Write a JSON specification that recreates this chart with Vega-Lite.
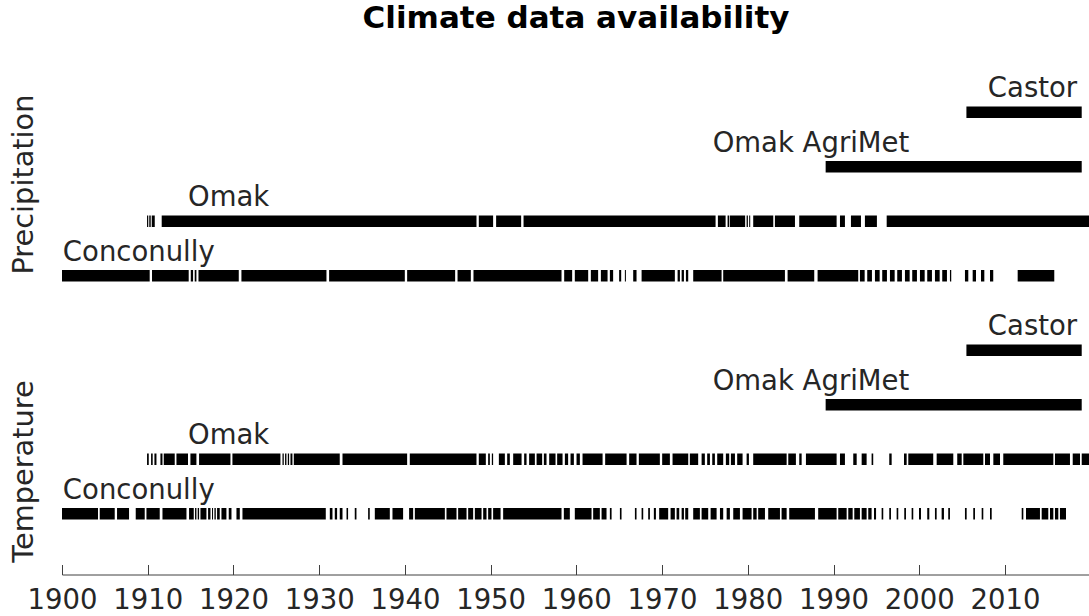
{
  "$schema": "https://vega.github.io/schema/vega-lite/v6.json",
  "padding": {"left": 9, "top": 3, "right": 0, "bottom": 0},
  "background": "white",
  "title": {"text": "Climate data availability", "fontSize": 31, "font": "DejaVu Sans", "fontWeight": "bold", "color": "black", "anchor": "middle", "offset": 40, "dx": 27},
  "bounds": "flush",
  "spacing": 20,
  "config": {"view": {"stroke": null}, "font": "DejaVu Sans"},
  "datasets": {
    "labels": [
      {"variable": "Precipitation", "station": "Castor", "labelYear": 2008.0},
      {"variable": "Precipitation", "station": "Omak AgriMet", "labelYear": 1975.9},
      {"variable": "Precipitation", "station": "Omak", "labelYear": 1914.7},
      {"variable": "Precipitation", "station": "Conconully", "labelYear": 1900.1},
      {"variable": "Temperature", "station": "Castor", "labelYear": 2008.0},
      {"variable": "Temperature", "station": "Omak AgriMet", "labelYear": 1975.9},
      {"variable": "Temperature", "station": "Omak", "labelYear": 1914.7},
      {"variable": "Temperature", "station": "Conconully", "labelYear": 1900.1}
    ],
    "segs": [
      {"variable":"Precipitation","station":"Castor","start":2005.5,"end":2018.95},
      {"variable":"Precipitation","station":"Omak AgriMet","start":1989.08,"end":2018.95},
      {"variable":"Precipitation","station":"Omak","start":1909.92,"end":1910.06},
      {"variable":"Precipitation","station":"Omak","start":1910.18,"end":1910.35},
      {"variable":"Precipitation","station":"Omak","start":1910.47,"end":1910.82},
      {"variable":"Precipitation","station":"Omak","start":1911.63,"end":1948.35},
      {"variable":"Precipitation","station":"Omak","start":1948.62,"end":1950.29},
      {"variable":"Precipitation","station":"Omak","start":1950.64,"end":1953.56},
      {"variable":"Precipitation","station":"Omak","start":1953.84,"end":1976.24},
      {"variable":"Precipitation","station":"Omak","start":1976.51,"end":1977.41},
      {"variable":"Precipitation","station":"Omak","start":1977.64,"end":1977.83},
      {"variable":"Precipitation","station":"Omak","start":1977.91,"end":1979.69},
      {"variable":"Precipitation","station":"Omak","start":1979.86,"end":1980.01},
      {"variable":"Precipitation","station":"Omak","start":1980.16,"end":1980.28},
      {"variable":"Precipitation","station":"Omak","start":1980.63,"end":1982.97},
      {"variable":"Precipitation","station":"Omak","start":1983.16,"end":1985.5},
      {"variable":"Precipitation","station":"Omak","start":1986.0,"end":1990.36},
      {"variable":"Precipitation","station":"Omak","start":1990.75,"end":1991.33},
      {"variable":"Precipitation","station":"Omak","start":1992.03,"end":1993.2},
      {"variable":"Precipitation","station":"Omak","start":1993.66,"end":1995.06},
      {"variable":"Precipitation","station":"Omak","start":1996.2,"end":2019.8},
      {"variable":"Precipitation","station":"Conconully","start":1900.0,"end":1910.23},
      {"variable":"Precipitation","station":"Conconully","start":1910.5,"end":1914.78},
      {"variable":"Precipitation","station":"Conconully","start":1915.02,"end":1915.29},
      {"variable":"Precipitation","station":"Conconully","start":1915.48,"end":1915.68},
      {"variable":"Precipitation","station":"Conconully","start":1915.92,"end":1920.62},
      {"variable":"Precipitation","station":"Conconully","start":1920.93,"end":1930.85},
      {"variable":"Precipitation","station":"Conconully","start":1931.16,"end":1939.99},
      {"variable":"Precipitation","station":"Conconully","start":1940.26,"end":1945.86},
      {"variable":"Precipitation","station":"Conconully","start":1946.14,"end":1947.69},
      {"variable":"Precipitation","station":"Conconully","start":1948.0,"end":1958.27},
      {"variable":"Precipitation","station":"Conconully","start":1958.58,"end":1959.51},
      {"variable":"Precipitation","station":"Conconully","start":1959.82,"end":1961.38},
      {"variable":"Precipitation","station":"Conconully","start":1961.69,"end":1962.54},
      {"variable":"Precipitation","station":"Conconully","start":1962.86,"end":1963.64},
      {"variable":"Precipitation","station":"Conconully","start":1963.91,"end":1964.29},
      {"variable":"Precipitation","station":"Conconully","start":1964.99,"end":1965.23},
      {"variable":"Precipitation","station":"Conconully","start":1965.66,"end":1965.78},
      {"variable":"Precipitation","station":"Conconully","start":1966.63,"end":1967.02},
      {"variable":"Precipitation","station":"Conconully","start":1967.61,"end":1971.49},
      {"variable":"Precipitation","station":"Conconully","start":1971.81,"end":1972.08},
      {"variable":"Precipitation","station":"Conconully","start":1972.28,"end":1972.55},
      {"variable":"Precipitation","station":"Conconully","start":1972.78,"end":1973.05},
      {"variable":"Precipitation","station":"Conconully","start":1973.63,"end":1976.94},
      {"variable":"Precipitation","station":"Conconully","start":1977.13,"end":1984.33},
      {"variable":"Precipitation","station":"Conconully","start":1984.64,"end":1987.75},
      {"variable":"Precipitation","station":"Conconully","start":1988.14,"end":1992.88},
      {"variable":"Precipitation","station":"Conconully","start":1993.08,"end":1993.63},
      {"variable":"Precipitation","station":"Conconully","start":1993.93,"end":1994.48},
      {"variable":"Precipitation","station":"Conconully","start":1994.83,"end":1995.38},
      {"variable":"Precipitation","station":"Conconully","start":1995.68,"end":1996.23},
      {"variable":"Precipitation","station":"Conconully","start":1996.58,"end":1997.13},
      {"variable":"Precipitation","station":"Conconully","start":1997.43,"end":1997.98},
      {"variable":"Precipitation","station":"Conconully","start":1998.33,"end":1998.88},
      {"variable":"Precipitation","station":"Conconully","start":1999.18,"end":1999.73},
      {"variable":"Precipitation","station":"Conconully","start":2000.08,"end":2000.63},
      {"variable":"Precipitation","station":"Conconully","start":2000.93,"end":2001.48},
      {"variable":"Precipitation","station":"Conconully","start":2001.83,"end":2002.38},
      {"variable":"Precipitation","station":"Conconully","start":2002.68,"end":2003.23},
      {"variable":"Precipitation","station":"Conconully","start":2003.58,"end":2003.73},
      {"variable":"Precipitation","station":"Conconully","start":2005.33,"end":2005.72},
      {"variable":"Precipitation","station":"Conconully","start":2006.23,"end":2006.62},
      {"variable":"Precipitation","station":"Conconully","start":2007.2,"end":2007.59},
      {"variable":"Precipitation","station":"Conconully","start":2008.25,"end":2008.63},
      {"variable":"Precipitation","station":"Conconully","start":2011.48,"end":2015.75},
      {"variable":"Temperature","station":"Castor","start":2005.5,"end":2018.95},
      {"variable":"Temperature","station":"Omak AgriMet","start":1989.08,"end":2018.95},
      {"variable":"Temperature","station":"Omak","start":1909.92,"end":1910.12},
      {"variable":"Temperature","station":"Omak","start":1910.39,"end":1910.58},
      {"variable":"Temperature","station":"Omak","start":1910.78,"end":1911.02},
      {"variable":"Temperature","station":"Omak","start":1911.48,"end":1911.72},
      {"variable":"Temperature","station":"Omak","start":1911.87,"end":1913.15},
      {"variable":"Temperature","station":"Omak","start":1913.35,"end":1914.7},
      {"variable":"Temperature","station":"Omak","start":1914.98,"end":1915.68},
      {"variable":"Temperature","station":"Omak","start":1915.99,"end":1919.65},
      {"variable":"Temperature","station":"Omak","start":1919.88,"end":1925.48},
      {"variable":"Temperature","station":"Omak","start":1925.72,"end":1925.87},
      {"variable":"Temperature","station":"Omak","start":1926.02,"end":1926.18},
      {"variable":"Temperature","station":"Omak","start":1926.34,"end":1926.49},
      {"variable":"Temperature","station":"Omak","start":1926.65,"end":1926.88},
      {"variable":"Temperature","station":"Omak","start":1927.04,"end":1932.4},
      {"variable":"Temperature","station":"Omak","start":1932.72,"end":1940.26},
      {"variable":"Temperature","station":"Omak","start":1940.57,"end":1948.35},
      {"variable":"Temperature","station":"Omak","start":1948.62,"end":1949.44},
      {"variable":"Temperature","station":"Omak","start":1949.71,"end":1949.91},
      {"variable":"Temperature","station":"Omak","start":1950.14,"end":1950.29},
      {"variable":"Temperature","station":"Omak","start":1950.96,"end":1951.66},
      {"variable":"Temperature","station":"Omak","start":1951.93,"end":1952.24},
      {"variable":"Temperature","station":"Omak","start":1952.63,"end":1953.61},
      {"variable":"Temperature","station":"Omak","start":1953.91,"end":1954.19},
      {"variable":"Temperature","station":"Omak","start":1954.49,"end":1955.16},
      {"variable":"Temperature","station":"Omak","start":1955.36,"end":1956.01},
      {"variable":"Temperature","station":"Omak","start":1956.21,"end":1956.52},
      {"variable":"Temperature","station":"Omak","start":1956.83,"end":1957.57},
      {"variable":"Temperature","station":"Omak","start":1957.76,"end":1958.39},
      {"variable":"Temperature","station":"Omak","start":1958.66,"end":1959.04},
      {"variable":"Temperature","station":"Omak","start":1959.32,"end":1959.71},
      {"variable":"Temperature","station":"Omak","start":1960.02,"end":1960.41},
      {"variable":"Temperature","station":"Omak","start":1960.72,"end":1963.06},
      {"variable":"Temperature","station":"Omak","start":1963.36,"end":1965.86},
      {"variable":"Temperature","station":"Omak","start":1966.16,"end":1967.02},
      {"variable":"Temperature","station":"Omak","start":1967.29,"end":1969.74},
      {"variable":"Temperature","station":"Omak","start":1970.01,"end":1970.91},
      {"variable":"Temperature","station":"Omak","start":1971.22,"end":1973.05},
      {"variable":"Temperature","station":"Omak","start":1973.24,"end":1974.21},
      {"variable":"Temperature","station":"Omak","start":1974.61,"end":1974.99},
      {"variable":"Temperature","station":"Omak","start":1975.26,"end":1975.58},
      {"variable":"Temperature","station":"Omak","start":1975.85,"end":1976.16},
      {"variable":"Temperature","station":"Omak","start":1976.43,"end":1977.13},
      {"variable":"Temperature","station":"Omak","start":1977.44,"end":1977.83},
      {"variable":"Temperature","station":"Omak","start":1978.03,"end":1978.5},
      {"variable":"Temperature","station":"Omak","start":1978.76,"end":1979.39},
      {"variable":"Temperature","station":"Omak","start":1979.86,"end":1980.13},
      {"variable":"Temperature","station":"Omak","start":1980.63,"end":1984.53},
      {"variable":"Temperature","station":"Omak","start":1984.72,"end":1985.61},
      {"variable":"Temperature","station":"Omak","start":1986.0,"end":1986.28},
      {"variable":"Temperature","station":"Omak","start":1986.78,"end":1990.36},
      {"variable":"Temperature","station":"Omak","start":1990.75,"end":1991.33},
      {"variable":"Temperature","station":"Omak","start":1992.3,"end":1992.7},
      {"variable":"Temperature","station":"Omak","start":1993.28,"end":1993.86},
      {"variable":"Temperature","station":"Omak","start":1994.44,"end":1994.63},
      {"variable":"Temperature","station":"Omak","start":1996.5,"end":1996.78},
      {"variable":"Temperature","station":"Omak","start":1998.22,"end":1998.53},
      {"variable":"Temperature","station":"Omak","start":1998.72,"end":2001.63},
      {"variable":"Temperature","station":"Omak","start":2002.03,"end":2003.97},
      {"variable":"Temperature","station":"Omak","start":2004.43,"end":2004.95},
      {"variable":"Temperature","station":"Omak","start":2005.14,"end":2007.47},
      {"variable":"Temperature","station":"Omak","start":2007.67,"end":2008.25},
      {"variable":"Temperature","station":"Omak","start":2008.64,"end":2009.42},
      {"variable":"Temperature","station":"Omak","start":2009.8,"end":2015.64},
      {"variable":"Temperature","station":"Omak","start":2015.83,"end":2017.58},
      {"variable":"Temperature","station":"Omak","start":2017.9,"end":2018.75},
      {"variable":"Temperature","station":"Omak","start":2018.95,"end":2019.8},
      {"variable":"Temperature","station":"Conconully","start":1900.0,"end":1904.2},
      {"variable":"Temperature","station":"Conconully","start":1904.4,"end":1906.15},
      {"variable":"Temperature","station":"Conconully","start":1906.42,"end":1907.82},
      {"variable":"Temperature","station":"Conconully","start":1908.6,"end":1909.65},
      {"variable":"Temperature","station":"Conconully","start":1909.85,"end":1911.4},
      {"variable":"Temperature","station":"Conconully","start":1911.72,"end":1914.52},
      {"variable":"Temperature","station":"Conconully","start":1914.82,"end":1915.37},
      {"variable":"Temperature","station":"Conconully","start":1915.52,"end":1915.68},
      {"variable":"Temperature","station":"Conconully","start":1915.83,"end":1915.99},
      {"variable":"Temperature","station":"Conconully","start":1916.15,"end":1916.85},
      {"variable":"Temperature","station":"Conconully","start":1917.04,"end":1917.32},
      {"variable":"Temperature","station":"Conconully","start":1917.5,"end":1917.62},
      {"variable":"Temperature","station":"Conconully","start":1917.78,"end":1917.94},
      {"variable":"Temperature","station":"Conconully","start":1918.09,"end":1918.4},
      {"variable":"Temperature","station":"Conconully","start":1918.6,"end":1919.18},
      {"variable":"Temperature","station":"Conconully","start":1919.45,"end":1919.77},
      {"variable":"Temperature","station":"Conconully","start":1920.35,"end":1920.74},
      {"variable":"Temperature","station":"Conconully","start":1921.05,"end":1930.77},
      {"variable":"Temperature","station":"Conconully","start":1931.24,"end":1931.55},
      {"variable":"Temperature","station":"Conconully","start":1931.82,"end":1932.09},
      {"variable":"Temperature","station":"Conconully","start":1932.4,"end":1932.72},
      {"variable":"Temperature","station":"Conconully","start":1933.19,"end":1933.37},
      {"variable":"Temperature","station":"Conconully","start":1934.15,"end":1934.35},
      {"variable":"Temperature","station":"Conconully","start":1935.71,"end":1935.9},
      {"variable":"Temperature","station":"Conconully","start":1936.49,"end":1938.24},
      {"variable":"Temperature","station":"Conconully","start":1938.55,"end":1939.79},
      {"variable":"Temperature","station":"Conconully","start":1940.49,"end":1940.96},
      {"variable":"Temperature","station":"Conconully","start":1941.16,"end":1944.66},
      {"variable":"Temperature","station":"Conconully","start":1944.85,"end":1946.02},
      {"variable":"Temperature","station":"Conconully","start":1946.21,"end":1947.19},
      {"variable":"Temperature","station":"Conconully","start":1947.38,"end":1947.96},
      {"variable":"Temperature","station":"Conconully","start":1948.16,"end":1948.94},
      {"variable":"Temperature","station":"Conconully","start":1949.13,"end":1949.52},
      {"variable":"Temperature","station":"Conconully","start":1949.71,"end":1950.1},
      {"variable":"Temperature","station":"Conconully","start":1950.29,"end":1951.16},
      {"variable":"Temperature","station":"Conconully","start":1951.46,"end":1958.27},
      {"variable":"Temperature","station":"Conconully","start":1958.54,"end":1959.24},
      {"variable":"Temperature","station":"Conconully","start":1959.82,"end":1961.77},
      {"variable":"Temperature","station":"Conconully","start":1961.96,"end":1962.74},
      {"variable":"Temperature","station":"Conconully","start":1962.94,"end":1963.52},
      {"variable":"Temperature","station":"Conconully","start":1963.91,"end":1964.11},
      {"variable":"Temperature","station":"Conconully","start":1965.08,"end":1965.27},
      {"variable":"Temperature","station":"Conconully","start":1966.83,"end":1967.02},
      {"variable":"Temperature","station":"Conconully","start":1967.61,"end":1967.8},
      {"variable":"Temperature","station":"Conconully","start":1968.38,"end":1968.58},
      {"variable":"Temperature","station":"Conconully","start":1969.04,"end":1969.28},
      {"variable":"Temperature","station":"Conconully","start":1969.66,"end":1970.71},
      {"variable":"Temperature","station":"Conconully","start":1970.99,"end":1971.49},
      {"variable":"Temperature","station":"Conconully","start":1971.69,"end":1972.0},
      {"variable":"Temperature","station":"Conconully","start":1972.28,"end":1972.55},
      {"variable":"Temperature","station":"Conconully","start":1972.7,"end":1973.05},
      {"variable":"Temperature","station":"Conconully","start":1973.63,"end":1974.41},
      {"variable":"Temperature","station":"Conconully","start":1974.61,"end":1975.38},
      {"variable":"Temperature","station":"Conconully","start":1975.66,"end":1976.36},
      {"variable":"Temperature","station":"Conconully","start":1976.75,"end":1977.13},
      {"variable":"Temperature","station":"Conconully","start":1977.53,"end":1977.91},
      {"variable":"Temperature","station":"Conconully","start":1978.3,"end":1979.08},
      {"variable":"Temperature","station":"Conconully","start":1979.39,"end":1980.44},
      {"variable":"Temperature","station":"Conconully","start":1980.63,"end":1981.03},
      {"variable":"Temperature","station":"Conconully","start":1981.21,"end":1982.0},
      {"variable":"Temperature","station":"Conconully","start":1982.38,"end":1983.75},
      {"variable":"Temperature","station":"Conconully","start":1983.94,"end":1984.53},
      {"variable":"Temperature","station":"Conconully","start":1984.83,"end":1987.83},
      {"variable":"Temperature","station":"Conconully","start":1988.21,"end":1990.36},
      {"variable":"Temperature","station":"Conconully","start":1990.55,"end":1991.53},
      {"variable":"Temperature","station":"Conconully","start":1991.72,"end":1992.23},
      {"variable":"Temperature","station":"Conconully","start":1992.42,"end":1993.08},
      {"variable":"Temperature","station":"Conconully","start":1993.28,"end":1993.86},
      {"variable":"Temperature","station":"Conconully","start":1994.05,"end":1994.44},
      {"variable":"Temperature","station":"Conconully","start":1994.72,"end":1994.96},
      {"variable":"Temperature","station":"Conconully","start":1995.61,"end":1995.8},
      {"variable":"Temperature","station":"Conconully","start":1996.5,"end":1996.7},
      {"variable":"Temperature","station":"Conconully","start":1997.36,"end":1997.55},
      {"variable":"Temperature","station":"Conconully","start":1998.25,"end":1998.45},
      {"variable":"Temperature","station":"Conconully","start":1999.11,"end":1999.3},
      {"variable":"Temperature","station":"Conconully","start":1999.97,"end":2000.2},
      {"variable":"Temperature","station":"Conconully","start":2000.93,"end":2001.17},
      {"variable":"Temperature","station":"Conconully","start":2001.83,"end":2002.03},
      {"variable":"Temperature","station":"Conconully","start":2002.61,"end":2002.88},
      {"variable":"Temperature","station":"Conconully","start":2003.38,"end":2003.58},
      {"variable":"Temperature","station":"Conconully","start":2005.33,"end":2005.53},
      {"variable":"Temperature","station":"Conconully","start":2006.3,"end":2006.5},
      {"variable":"Temperature","station":"Conconully","start":2007.28,"end":2007.47},
      {"variable":"Temperature","station":"Conconully","start":2008.25,"end":2008.45},
      {"variable":"Temperature","station":"Conconully","start":2011.95,"end":2012.14},
      {"variable":"Temperature","station":"Conconully","start":2012.45,"end":2014.08},
      {"variable":"Temperature","station":"Conconully","start":2014.28,"end":2015.05},
      {"variable":"Temperature","station":"Conconully","start":2015.25,"end":2015.64},
      {"variable":"Temperature","station":"Conconully","start":2015.83,"end":2016.22},
      {"variable":"Temperature","station":"Conconully","start":2016.41,"end":2017.12}
    ]
  },
  "vconcat": [
    {
      "width": 1027,
      "height": 218,
      "layer": [
        {
          "data": {"name": "segs"},
          "transform": [{"filter": "datum.variable === 'Precipitation'"}],
          "mark": {"type": "bar", "height": 11.5, "color": "black"},
          "encoding": {
            "x": {"field": "start", "type": "quantitative", "scale": {"domain": [1900, 2019.8], "nice": false, "zero": false}, "axis": null},
            "x2": {"field": "end"},
            "y": {"field": "station", "type": "nominal", "sort": ["Castor", "Omak AgriMet", "Omak", "Conconully"], "scale": {"paddingInner": 0, "paddingOuter": 0},
                  "axis": {"title": "Precipitation", "labels": false, "ticks": false, "domain": false, "grid": false, "titleFontSize": 28.8, "titleFontWeight": "normal", "titleColor": "#262626", "titlePadding": 24, "titleY": 99, "titleFont": "DejaVu Sans"}}
          }
        },
        {
          "data": {"name": "labels"},
          "transform": [{"filter": "datum.variable === 'Precipitation'"}],
          "mark": {"type": "text", "align": "left", "baseline": "alphabetic", "dy": -15, "fontSize": 27.5, "color": "#262626", "font": "DejaVu Sans"},
          "encoding": {
            "x": {"field": "labelYear", "type": "quantitative"},
            "y": {"field": "station", "type": "nominal", "sort": ["Castor", "Omak AgriMet", "Omak", "Conconully"]},
            "text": {"field": "station"}
          }
        }
      ]
    },
    {
      "width": 1027,
      "height": 218,
      "layer": [
        {
          "data": {"name": "segs"},
          "transform": [{"filter": "datum.variable === 'Temperature'"}],
          "mark": {"type": "bar", "height": 11.5, "color": "black"},
          "encoding": {
            "x": {"field": "start", "type": "quantitative", "scale": {"domain": [1900, 2019.8], "nice": false, "zero": false},
                  "axis": {"values": [1900, 1910, 1920, 1930, 1940, 1950, 1960, 1970, 1980, 1990, 2000, 2010], "format": "d", "title": null, "grid": false, "offset": 33.5, "tickSize": -10, "labelPadding": 22, "labelFontSize": 27.5, "labelColor": "#262626", "labelFont": "DejaVu Sans", "domainColor": "#404040", "tickColor": "#404040", "labelFlush": false, "labelOverlap": false}},
            "x2": {"field": "end"},
            "y": {"field": "station", "type": "nominal", "sort": ["Castor", "Omak AgriMet", "Omak", "Conconully"], "scale": {"paddingInner": 0, "paddingOuter": 0},
                  "axis": {"title": "Temperature", "labels": false, "ticks": false, "domain": false, "grid": false, "titleFontSize": 28.8, "titleFontWeight": "normal", "titleColor": "#262626", "titlePadding": 24, "titleY": 148, "titleFont": "DejaVu Sans"}}
          }
        },
        {
          "data": {"name": "labels"},
          "transform": [{"filter": "datum.variable === 'Temperature'"}],
          "mark": {"type": "text", "align": "left", "baseline": "alphabetic", "dy": -15, "fontSize": 27.5, "color": "#262626", "font": "DejaVu Sans"},
          "encoding": {
            "x": {"field": "labelYear", "type": "quantitative"},
            "y": {"field": "station", "type": "nominal", "sort": ["Castor", "Omak AgriMet", "Omak", "Conconully"]},
            "text": {"field": "station"}
          }
        }
      ]
    }
  ]
}
